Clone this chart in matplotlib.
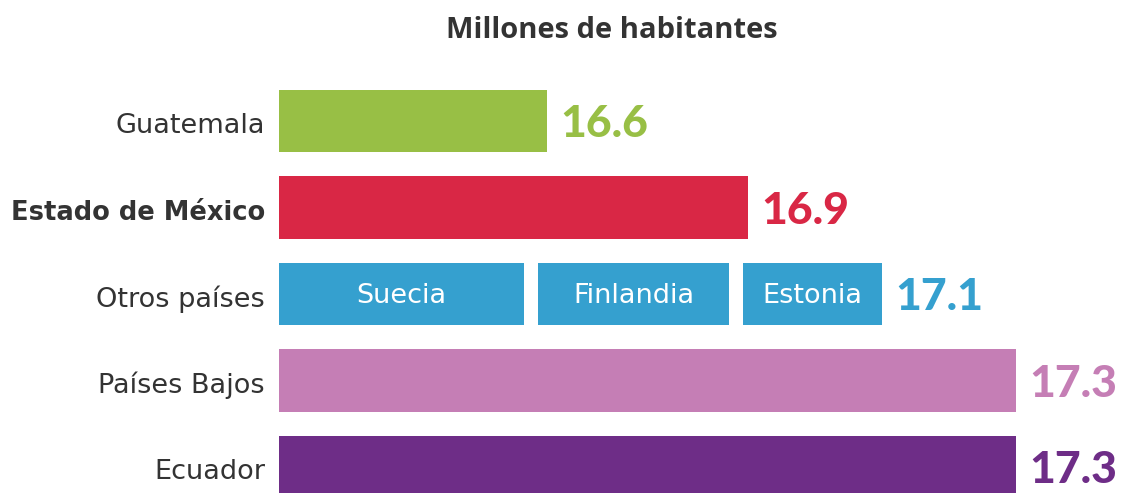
import matplotlib
matplotlib.use("Agg")
import matplotlib.pyplot as plt

categories = ["Guatemala", "Estado de México", "Otros países", "Países Bajos", "Ecuador"]
values = [16.6, 16.9, 17.1, 17.3, 17.3]
colors = ["#98BF45", "#D92745", "#35A0CF", "#C57EB5", "#6E2D87"]
value_labels = ["16.6", "16.9", "17.1", "17.3", "17.3"]
segment_names = ["Suecia", "Finlandia", "Estonia"]
segment_widths = [0.366, 0.285, 0.207]
segment_gap = 0.021
axis_start = 16.2
title = "Millones de habitantes"

W, H = 1124, 493
fig = plt.figure(figsize=(W / 100, H / 100), dpi=100)
ax = fig.add_axes([279 / W, 0, 1 - 279 / W, 1])
ax.set_xlim(axis_start, axis_start + (W - 279) / 670)
ax.set_ylim((H - 121) / 86.5, -121 / 86.5)
ax.axis("off")

bar_h = 0.72
for i, (cat, v, c, lab) in enumerate(zip(categories, values, colors, value_labels)):
    if cat == "Otros países":
        left = axis_start
        for name, w in zip(segment_names, segment_widths):
            ax.barh(i, w, left=left, height=bar_h, color=c)
            ax.text(left + w / 2, i + 0.02, name, ha="center", va="center", color="white",
                    fontsize=19.5, family="DejaVu Sans")
            left += w + segment_gap
    else:
        ax.barh(i, v - axis_start, left=axis_start, height=bar_h, color=c)
    ax.text(v + 0.02, i + 0.04, lab, ha="left", va="center", color=c,
            fontsize=32, fontweight=900, family="Lato")
    bold = cat == "Estado de México"
    fig.text(265 / W, 1 - (126 + 86.5 * i) / H, cat, ha="right", va="center",
             color="#333333", fontsize=18.5 if bold else 19.5, family="DejaVu Sans",
             fontweight="bold" if bold else "normal")

fig.text(612 / W, 1 - 31 / H, title, ha="center", va="center", color="#333333",
         fontsize=21, fontweight="bold", family="Open Sans")

fig.savefig("out.png", dpi=100)
